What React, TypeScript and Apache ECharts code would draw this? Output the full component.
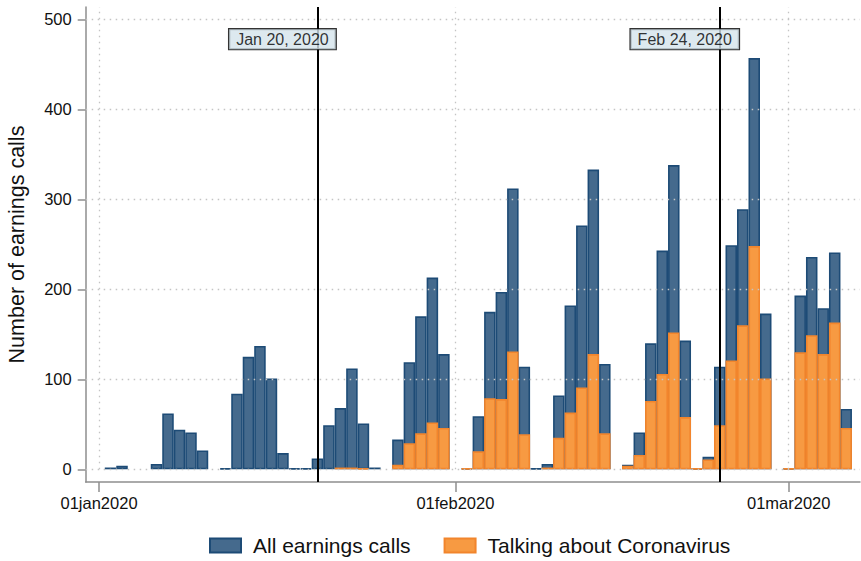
import React, { useEffect, useRef } from "react";
import * as echarts from "echarts";

// ---- Data ----
const dates = [
  "2020-01-02", "2020-01-03", "2020-01-06", "2020-01-07", "2020-01-08", "2020-01-09", "2020-01-10",
  "2020-01-12", "2020-01-13", "2020-01-14", "2020-01-15", "2020-01-16", "2020-01-17", "2020-01-18",
  "2020-01-19", "2020-01-20", "2020-01-21", "2020-01-22", "2020-01-23", "2020-01-24", "2020-01-25",
  "2020-01-27", "2020-01-28", "2020-01-29", "2020-01-30", "2020-01-31",
  "2020-02-02", "2020-02-03", "2020-02-04", "2020-02-05", "2020-02-06", "2020-02-07", "2020-02-08",
  "2020-02-09", "2020-02-10", "2020-02-11", "2020-02-12", "2020-02-13", "2020-02-14",
  "2020-02-16", "2020-02-17", "2020-02-18", "2020-02-19", "2020-02-20", "2020-02-21", "2020-02-22",
  "2020-02-23", "2020-02-24", "2020-02-25", "2020-02-26", "2020-02-27", "2020-02-28",
  "2020-03-01", "2020-03-02", "2020-03-03", "2020-03-04", "2020-03-05", "2020-03-06",
];
const allCalls = [
  2, 4, 6, 62, 44, 41, 21,
  1, 84, 125, 137, 101, 18, 1,
  1, 12, 49, 68, 112, 51, 2,
  33, 119, 170, 213, 128,
  1, 59, 175, 197, 312, 114, 1,
  6, 82, 182, 271, 333, 117,
  5, 41, 140, 243, 338, 143, 1,
  14, 114, 249, 289, 457, 173,
  1, 193, 236, 179, 241, 67,
];
const coronaCalls = [
  null, null, null, null, null, null, null,
  null, null, null, null, null, null, null,
  null, null, null, 2, 2, 1, null,
  5, 29, 40, 52, 46,
  1, 20, 79, 78, 131, 39, null,
  2, 35, 63, 91, 128, 40,
  4, 16, 76, 106, 152, 58, 1,
  11, 49, 121, 160, 248, 101,
  1, 130, 149, 128, 163, 46,
];
const yTicks = [0, 100, 200, 300, 400, 500];
const xTickDates = ["2020-01-01", "2020-02-01", "2020-03-01"];
const xTickLabels = ["01jan2020", "01feb2020", "01mar2020"];
const eventDates = ["2020-01-20", "2020-02-24"];
const eventLabels = ["Jan 20, 2020", "Feb 24, 2020"];
const eventLabelValue = 478;
const seriesNames = ["All earnings calls", "Talking about Coronavirus"];

const ORIGIN = "2020-01-01";
const dayIndex = (s: string) => {
  const [y, m, d] = s.split("-").map(Number);
  const [y0, m0, d0] = ORIGIN.split("-").map(Number);
  return Math.round((Date.UTC(y, m - 1, d) - Date.UTC(y0, m0 - 1, d0)) / 86400000);
};

const FONT = "'Liberation Sans', Arial, Helvetica, sans-serif";

export default function App() {
  const ref = useRef<HTMLDivElement>(null);
  useEffect(() => {
    if (!ref.current) return;
    const chart = echarts.init(ref.current, undefined, { renderer: "svg" });
    const xMin = -1.16;
    const xMax = 66.2;
    const yMin = -14.1;
    const yMax = 513.7;
    const tickX = xTickDates.map(dayIndex);

    const option: any = {
      animation: false,
      textStyle: { fontFamily: FONT },
      grid: { left: 85.7, right: 1, top: 7, bottom: 79, containLabel: false, outerBoundsMode: "none" },
      legend: {
        data: seriesNames,
        left: 209,
        top: 535,
        padding: 0,
        icon: "rect",
        itemWidth: 31,
        itemHeight: 14,
        itemGap: 33,
        textStyle: { fontSize: 21, color: "#111", fontFamily: FONT, padding: [0, 0, 0, 7] },
      },
      xAxis: {
        type: "value",
        min: xMin,
        max: xMax,
        axisLine: { show: true, onZero: false, lineStyle: { color: "#8e8e8e", width: 1.5 } },
        axisTick: { show: true, length: 10, customValues: tickX, lineStyle: { color: "#8e8e8e", width: 1.5 } },
        axisLabel: {
          customValues: tickX,
          formatter: (v: number) => {
            const i = tickX.indexOf(Math.round(v));
            return i >= 0 ? xTickLabels[i] : "";
          },
          fontSize: 16.5,
          color: "#111",
          margin: 12,
          fontFamily: FONT,
        },
        splitLine: { show: false },
      },
      yAxis: {
        type: "value",
        min: yMin,
        max: yMax,
        name: "Number of earnings calls",
        nameLocation: "middle",
        nameGap: 58,
        nameTextStyle: { fontSize: 21.5, color: "#111", fontFamily: FONT },
        axisLine: { show: true, onZero: false, lineStyle: { color: "#8e8e8e", width: 1.5 } },
        axisTick: { show: true, length: 8, customValues: yTicks, lineStyle: { color: "#8e8e8e", width: 1.5 } },
        axisLabel: { customValues: yTicks, fontSize: 16.5, color: "#111", margin: 14, fontFamily: FONT },
        splitLine: { show: false },
      },
      series: [
        {
          name: "grid",
          type: "line",
          data: [],
          z: 0,
          silent: true,
          markLine: {
            silent: true,
            symbol: "none",
            label: { show: false },
            lineStyle: { type: [1.5, 4.5], color: "#c4c4c4", width: 1.3 },
            data: [
              ...yTicks.map((v) => [{ coord: [xMin, v] }, { coord: [xMax, v] }]),
              ...tickX.map((t) => [{ coord: [t, 0] }, { coord: [t, yMax] }]),
            ],
          },
        },
        {
          name: "events",
          type: "line",
          data: [],
          z: 1,
          silent: true,
          markLine: {
            silent: true,
            symbol: "none",
            label: { show: false },
            lineStyle: { type: "solid", color: "#000", width: 2 },
            data: eventDates.map((d) => [{ coord: [dayIndex(d), yMin] }, { coord: [dayIndex(d), yMax] }]),
          },
        },
        {
          name: seriesNames[0],
          type: "bar",
          z: 3,
          barWidth: 11.5,
          barGap: "-100%",
          data: dates.map((d, i) => [dayIndex(d), allCalls[i]]),
          itemStyle: { color: "#456a8d", borderColor: "#1d4b76", borderWidth: 1.6 },
        },
        {
          name: seriesNames[1],
          type: "bar",
          z: 4,
          barWidth: 11.5,
          barGap: "-100%",
          data: dates.map((d, i) => [dayIndex(d), coronaCalls[i]]),
          itemStyle: { color: "#f79a42", borderColor: "#f2852c", borderWidth: 1.6 },
        },
        {
          name: "labels",
          type: "scatter",
          z: 10,
          symbolSize: 0,
          silent: true,
          data: eventDates.map((d, i) => ({ value: [dayIndex(d), eventLabelValue], name: eventLabels[i] })),
          label: {
            show: true,
            position: "inside",
            offset: [-35, 0],
            formatter: (p: any) => p.name,
            fontSize: 16,
            color: "#000",
            fontFamily: FONT,
            backgroundColor: "#d5e4eb",
            borderColor: "#000",
            borderWidth: 1.2,
            padding: [2, 7, 1, 7],
            lineHeight: 17,
          },
        },
      ],
    };
    chart.setOption(option);
    return () => chart.dispose();
  }, []);
  return (
    <div
      ref={ref}
      style={{ position: "fixed", left: 0, top: 0, width: 861, height: 561, background: "#fff" }}
    />
  );
}
